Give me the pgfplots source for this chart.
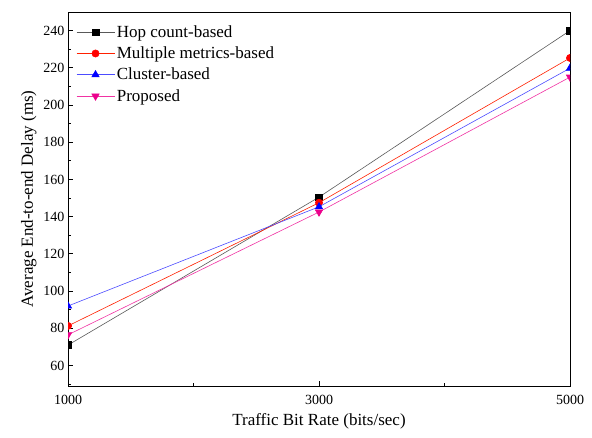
\documentclass[border=0pt]{standalone}
\usepackage{fontspec}
\setmainfont{Liberation Serif}
\usepackage{pgfplots}
\pgfplotsset{compat=1.18}
\begin{document}
\begin{tikzpicture}[x=1pt,y=1pt]
\begin{axis}[
  scale only axis,
  width=502pt, height=374pt,
  xmin=1000, xmax=5000,
  ymin=49, ymax=250,
  xtick={1000,3000,5000},
  minor xtick={2000,4000},
  ytick={60,80,...,240},
  minor ytick={50,70,...,250},
  tick align=inside,
  xtick pos=bottom, ytick pos=left,
  major tick length=5pt, minor tick length=3pt,
  every tick/.style={black, line width=0.8pt},
  axis line style={line width=1pt},
  x tick label style={font=\fontsize{14}{16}\selectfont, /pgf/number format/1000 sep={}, yshift=-6pt},
  y tick label style={font=\fontsize{14}{16}\selectfont},
  /pgf/number format/assume math mode=true,
  xlabel={Traffic Bit Rate (bits/sec)},
  ylabel={Average End-to-end Delay (ms)},
  label style={font=\fontsize{17}{19}\selectfont},
  xlabel style={yshift=-2pt},
  clip marker paths=true,
  legend style={at={(0.01,0.975)}, anchor=north west, draw=none, fill=none,
    font=\fontsize{17}{19}\selectfont, row sep=4pt},
  legend cell align=left,
  legend image code/.code={\draw[mark repeat=2,mark phase=2] plot coordinates {(0pt,0pt) (19pt,0pt) (38pt,0pt)};},
]
\addplot[color=black!65, line width=0.6pt, mark=square*, mark size=3.3pt, mark options={fill=black, draw=black}]
  coordinates {(1000,71) (3000,150.5) (5000,240)};
\addlegendentry{Hop count-based}
\addplot[color=red!75!orange, line width=0.6pt, mark=*, mark size=3.6pt, mark options={fill=red, draw=red}]
  coordinates {(1000,81.3) (3000,147.5) (5000,225.3)};
\addlegendentry{Multiple metrics-based}
\addplot[color=blue!70, line width=0.6pt, mark=triangle*, mark size=4.2pt, mark options={fill=blue, draw=blue}]
  coordinates {(1000,92) (3000,145.3) (5000,219.8)};
\addlegendentry{Cluster-based}
\addplot[color=magenta!80, line width=0.6pt, mark=triangle*, mark size=4.2pt, mark options={fill=magenta, draw=magenta, rotate=180}]
  coordinates {(1000,76.5) (3000,142.5) (5000,215)};
\addlegendentry{Proposed}
\end{axis}
\pgfresetboundingbox
\path (current axis.south west) ++(-68pt,-51pt) (current axis.north east) ++(22pt,12pt);
\end{tikzpicture}
\end{document}
